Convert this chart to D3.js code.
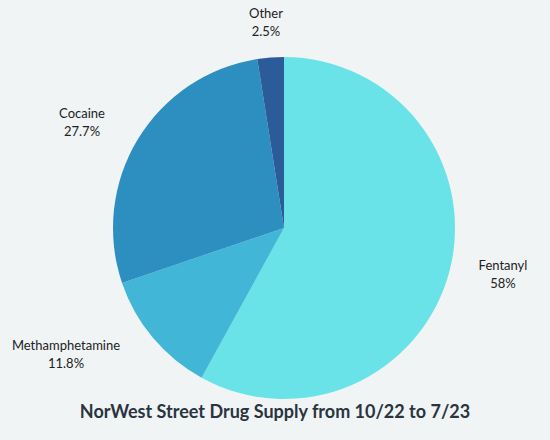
<!DOCTYPE html>
<html><head><meta charset="utf-8">
<script src="https://cdn.jsdelivr.net/npm/d3@7"></script>
<style>body{margin:0;background:#f0f4f5}</style></head>
<body><svg id="c" width="550" height="440"></svg>
<script>
const categories=["Fentanyl","Methamphetamine","Cocaine","Other"];
const values=[58,11.8,27.7,2.5];
const valueLabels=["58%","11.8%","27.7%","2.5%"];
const colors=["#69e3e8","#42b6d6","#2d8fbf","#2b5c99"];
const labelPos=[[503,270],[66,350],[82,118],[266,18]];
const svg=d3.select("#c");
svg.append("rect").attr("width",550).attr("height",440).attr("fill","#f0f4f5");
const cx=284,cy=228,r=171;
const pie=d3.pie().sort(null).value(d=>d)(values);
const arc=d3.arc().innerRadius(0).outerRadius(r);
svg.append("g").attr("transform",`translate(${cx},${cy})`).selectAll("path").data(pie).join("path")
 .attr("d",arc).attr("fill",(d,i)=>colors[i]);
categories.forEach((c,i)=>{
 const t=svg.append("text").attr("x",labelPos[i][0]).attr("y",labelPos[i][1]).attr("text-anchor","middle")
  .attr("font-family","Lato, 'Open Sans', sans-serif").attr("font-size",13).attr("fill","#222");
 t.append("tspan").attr("x",labelPos[i][0]).text(c);
 t.append("tspan").attr("x",labelPos[i][0]).attr("dy",18).text(valueLabels[i]);
});
svg.append("text").attr("x",275).attr("y",418).attr("text-anchor","middle")
 .attr("font-family","Lato, sans-serif").attr("font-weight","bold").attr("font-size",18).attr("fill","#2a3440")
 .text("NorWest Street Drug Supply from 10/22 to 7/23");
</script></body></html>
